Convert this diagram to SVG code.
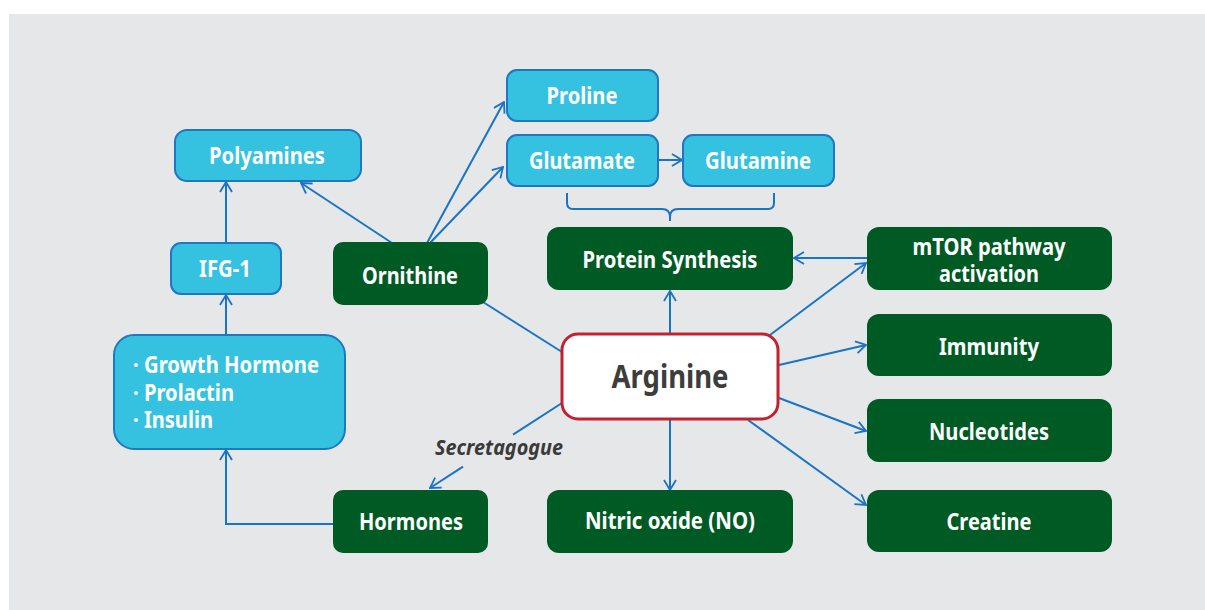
<svg xmlns="http://www.w3.org/2000/svg" width="1205" height="610" viewBox="0 0 1205 610">
<defs>
<style>
.bg{fill:#e6e7e9}
.lb{fill:#35c2e1;stroke:#1e78c1;stroke-width:2}
.dg{fill:#005a24}
.arg{fill:#ffffff;stroke:#c1222f;stroke-width:3}
.t{font-family:"Noto Sans","Liberation Sans",sans-serif;font-weight:bold;font-size:23px;fill:#ffffff;text-anchor:middle}
.tl{font-family:"Noto Sans","Liberation Sans",sans-serif;font-weight:bold;font-size:23px;fill:#ffffff}
.c{fill:none;stroke:#1a74c4;stroke-width:2}
</style>
<marker id="ah" viewBox="0 0 12 14" refX="11" refY="7" markerWidth="12" markerHeight="14" markerUnits="userSpaceOnUse" orient="auto">
<path d="M1,1 L11,7 L1,13" fill="none" stroke="#1a74c4" stroke-width="1.8"/>
</marker>
</defs>
<rect x="9" y="14" width="1196" height="596" class="bg"/>
<g id="connectors">
<line class="c" x1="226" y1="242" x2="226" y2="182" marker-end="url(#ah)"/>
<line class="c" x1="226" y1="334" x2="226" y2="295" marker-end="url(#ah)"/>
<polyline class="c" points="333,524 226,524 226,450" marker-end="url(#ah)"/>
<line class="c" x1="392" y1="243" x2="301" y2="183" marker-end="url(#ah)"/>
<line class="c" x1="427" y1="243" x2="504" y2="102" marker-end="url(#ah)"/>
<line class="c" x1="430" y1="243" x2="503" y2="167" marker-end="url(#ah)"/>
<line class="c" x1="658" y1="160" x2="682" y2="160" marker-end="url(#ah)"/>
<path class="c" d="M567,193 V203 Q567,209 573,209 H662 Q670,209 670,217 V221 M670,217 Q670,209 678,209 H768 Q774,209 774,203 V193"/>
<line class="c" x1="483" y1="302" x2="562" y2="352"/>
<line class="c" x1="670" y1="333" x2="670" y2="291" marker-end="url(#ah)"/>
<line class="c" x1="867" y1="258" x2="794" y2="258" marker-end="url(#ah)"/>
<line class="c" x1="770" y1="335" x2="866" y2="263" marker-end="url(#ah)"/>
<line class="c" x1="779" y1="365" x2="866" y2="345" marker-end="url(#ah)"/>
<line class="c" x1="779" y1="398" x2="866" y2="431" marker-end="url(#ah)"/>
<line class="c" x1="748" y1="420" x2="866" y2="505" marker-end="url(#ah)"/>
<line class="c" x1="670" y1="420" x2="670" y2="490" marker-end="url(#ah)"/>
<line class="c" x1="562" y1="403" x2="513" y2="434.6"/>
<line class="c" x1="463" y1="466.7" x2="430" y2="488" marker-end="url(#ah)"/>
<text x="435" y="455" font-family="Noto Sans, Liberation Sans, sans-serif" font-weight="bold" font-style="italic" font-size="21" fill="#3a3a3a" textLength="128" lengthAdjust="spacingAndGlyphs">Secretagogue</text>
</g>
<g id="polyamines"><rect class="lb" x="175" y="130" width="186" height="51" rx="12"/><text class="t" x="267" y="164" textLength="116" lengthAdjust="spacingAndGlyphs">Polyamines</text></g>
<g id="ifg1"><rect class="lb" x="171" y="243" width="110" height="51" rx="10"/><text class="t" x="225" y="277" textLength="52" lengthAdjust="spacingAndGlyphs">IFG-1</text></g>
<g id="hormones-list"><rect class="lb" x="114" y="335" width="231" height="114" rx="20"/>
<text class="tl" x="133" y="373" textLength="186" lengthAdjust="spacingAndGlyphs">· Growth Hormone</text>
<text class="tl" x="133" y="401" textLength="101" lengthAdjust="spacingAndGlyphs">· Prolactin</text>
<text class="tl" x="133" y="428" textLength="80" lengthAdjust="spacingAndGlyphs">· Insulin</text></g>
<g id="ornithine"><rect class="dg" x="333" y="242" width="155" height="63" rx="10"/><text class="t" x="410" y="284" textLength="96" lengthAdjust="spacingAndGlyphs">Ornithine</text></g>
<g id="proline"><rect class="lb" x="507" y="70" width="151" height="51" rx="10"/><text class="t" x="582" y="104" textLength="71" lengthAdjust="spacingAndGlyphs">Proline</text></g>
<g id="glutamate"><rect class="lb" x="507" y="135" width="151" height="51" rx="10"/><text class="t" x="582" y="169" textLength="106" lengthAdjust="spacingAndGlyphs">Glutamate</text></g>
<g id="glutamine"><rect class="lb" x="683" y="135" width="151" height="51" rx="10"/><text class="t" x="758" y="169" textLength="106" lengthAdjust="spacingAndGlyphs">Glutamine</text></g>
<g id="protein-synthesis"><rect class="dg" x="547" y="227" width="246" height="63" rx="12"/><text class="t" x="670" y="268" textLength="175" lengthAdjust="spacingAndGlyphs">Protein Synthesis</text></g>
<g id="mtor"><rect class="dg" x="867" y="227" width="245" height="63" rx="12"/><text class="t" x="989" y="255" textLength="153" lengthAdjust="spacingAndGlyphs">mTOR pathway</text><text class="t" x="989" y="282" textLength="100" lengthAdjust="spacingAndGlyphs">activation</text></g>
<g id="immunity"><rect class="dg" x="867" y="314" width="245" height="62" rx="12"/><text class="t" x="989" y="355" textLength="100" lengthAdjust="spacingAndGlyphs">Immunity</text></g>
<g id="nucleotides"><rect class="dg" x="867" y="399" width="245" height="63" rx="12"/><text class="t" x="989" y="440" textLength="120" lengthAdjust="spacingAndGlyphs">Nucleotides</text></g>
<g id="creatine"><rect class="dg" x="867" y="490" width="245" height="62" rx="12"/><text class="t" x="989" y="530" textLength="85" lengthAdjust="spacingAndGlyphs">Creatine</text></g>
<g id="nitric-oxide"><rect class="dg" x="547" y="490" width="246" height="63" rx="12"/><text class="t" x="670" y="529" textLength="170" lengthAdjust="spacingAndGlyphs">Nitric oxide (NO)</text></g>
<g id="hormones"><rect class="dg" x="333" y="490" width="155" height="63" rx="10"/><text class="t" x="411" y="530" textLength="104" lengthAdjust="spacingAndGlyphs">Hormones</text></g>
<g id="arginine"><rect class="arg" x="562" y="334" width="216" height="85" rx="16"/><text x="670" y="388" text-anchor="middle" font-family="Noto Sans, Liberation Sans, sans-serif" font-weight="bold" font-size="32" fill="#3d3d3d" textLength="117" lengthAdjust="spacingAndGlyphs">Arginine</text></g>
</svg>
